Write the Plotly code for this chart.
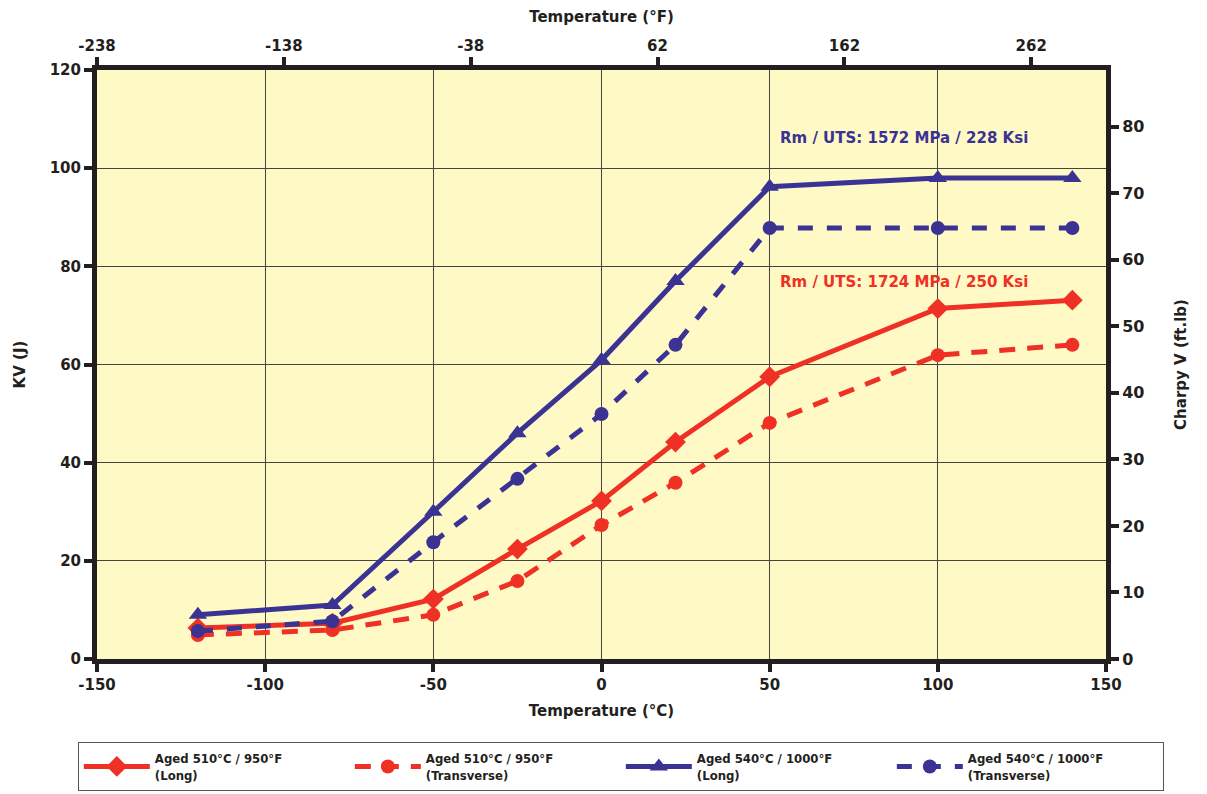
import plotly.graph_objects as go

temp_c = [-120, -80, -50, -25, 0, 22, 50, 100, 140]
aged510_long = [6.3, 7.3, 12.2, 22.4, 32.2, 44.2, 57.5, 71.4, 73.1]
aged510_trans = [4.9, 5.9, 9.0, 15.9, 27.3, 35.9, 48.1, 61.9, 64.0]
aged540_long = [9.0, 11.0, 30.0, 46.0, 60.9, 77.0, 96.2, 98.0, 98.0]
aged540_trans = [5.7, 7.7, 23.8, 36.7, 49.9, 64.0, 87.8, 87.8, 87.8]

c_ticks = [-150, -100, -50, 0, 50, 100, 150]
kv_ticks = [0, 20, 40, 60, 80, 100, 120]
f_ticks = [-238, -138, -38, 62, 162, 262]
ftlb_ticks = [0, 10, 20, 30, 40, 50, 60, 70, 80]

RED = "#EE3124"
BLUE = "#3A3393"
DARK = "#231F20"
FONT = "DejaVu Sans"

fig = go.Figure()

series = [
    ("Aged 510°C / 950°F<br>(Long)", aged510_long, RED, "solid", "diamond", 16),
    ("Aged 510°C / 950°F<br>(Transverse)", aged510_trans, RED, "16px,12px", "circle", 14),
    ("Aged 540°C / 1000°F<br>(Long)", aged540_long, BLUE, "solid", "triangle-up", 16),
    ("Aged 540°C / 1000°F<br>(Transverse)", aged540_trans, BLUE, "15px,14px", "circle", 14),
]
for name, ys, col, dash, sym, sz in series:
    fig.add_trace(go.Scatter(
        x=temp_c, y=ys, name=name, mode="lines+markers",
        line=dict(color=col, width=5, dash=dash),
        marker=dict(color=col, symbol=sym, size=sz),
    ))

# helper trace to realise the secondary (°F / ft.lb) axes
fig.add_trace(go.Scatter(
    x=[c * 1.8 + 32 for c in temp_c], y=[v * 0.7376 for v in aged540_long],
    xaxis="x2", yaxis="y2", mode="markers", marker=dict(opacity=0),
    showlegend=False, hoverinfo="skip",
))

def lab(vals):
    return [str(v) for v in vals]

tickfont = dict(family=FONT, size=15, color=DARK, weight="bold")
titlefont = dict(family=FONT, size=15, color=DARK, weight="bold")

fig.update_layout(
    width=1207, height=794,
    margin=dict(l=89, r=109, t=62, b=143, autoexpand=False),
    paper_bgcolor="white",
    plot_bgcolor="#FFF9C6",
    font=dict(family=FONT, color=DARK),
    xaxis=dict(
        range=[-150, 150], tickvals=c_ticks, ticktext=lab(c_ticks),
        showgrid=True, gridcolor="#444444", gridwidth=1,
        showline=True, linecolor=DARK, linewidth=5,
        ticks="outside", ticklen=8, tickwidth=4, tickcolor=DARK,
        tickfont=tickfont, zeroline=False,
        title=dict(text="Temperature (°C)", font=titlefont, standoff=14),
    ),
    xaxis2=dict(
        range=[-238, 302], tickvals=f_ticks, ticktext=lab(f_ticks),
        overlaying="x", side="top",
        showgrid=False, showline=True, linecolor=DARK, linewidth=5,
        ticks="outside", ticklen=8, tickwidth=4, tickcolor=DARK,
        tickfont=tickfont, zeroline=False,
        title=dict(text="Temperature (°F)", font=titlefont, standoff=14),
    ),
    yaxis=dict(
        range=[0, 120], tickvals=kv_ticks, ticktext=lab(kv_ticks),
        showgrid=True, gridcolor="#444444", gridwidth=1,
        showline=True, linecolor=DARK, linewidth=5,
        ticks="outside", ticklen=8, tickwidth=4, tickcolor=DARK,
        tickfont=tickfont, zeroline=False,
        title=dict(text="KV (J)", font=titlefont, standoff=22),
    ),
    yaxis2=dict(
        range=[0, 120 * 0.7376], tickvals=ftlb_ticks, ticktext=lab(ftlb_ticks),
        overlaying="y", side="right",
        showgrid=False, showline=True, linecolor=DARK, linewidth=5,
        ticks="outside", ticklen=8, tickwidth=4, tickcolor=DARK,
        tickfont=dict(family=FONT, size=16, color=DARK, weight="bold"), zeroline=False,
        title=dict(text="Charpy V (ft.lb)", font=titlefont, standoff=34),
    ),
    legend=dict(
        orientation="h", x=-0.019, xanchor="left", y=-0.141, yanchor="top",
        bgcolor="white", bordercolor="#555555", borderwidth=1,
        font=dict(family="DejaVu Sans Condensed", size=13, color=DARK, weight="bold"),
        entrywidth=190, entrywidthmode="pixels",
        tracegroupgap=0, itemwidth=66,
    ),
    annotations=[
        dict(x=52.6, y=106.2, xref="x", yref="y", xanchor="left", yanchor="middle",
             text="Rm / UTS: 1572 MPa / 228 Ksi", showarrow=False,
             font=dict(family=FONT, size=15, color=BLUE, weight="bold")),
        dict(x=52.6, y=76.8, xref="x", yref="y", xanchor="left", yanchor="middle",
             text="Rm / UTS: 1724 MPa / 250 Ksi", showarrow=False,
             font=dict(family=FONT, size=15, color=RED, weight="bold")),
    ],
)

fig.write_html("out.html")
